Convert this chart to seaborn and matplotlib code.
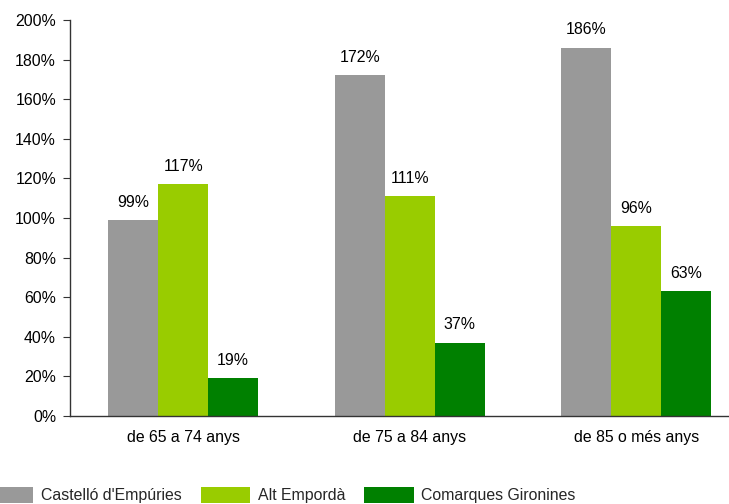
import pandas as pd
import matplotlib
matplotlib.use('Agg')
import matplotlib.pyplot as plt
import seaborn as sns
from matplotlib.ticker import FuncFormatter, FixedLocator

# Chart values
groups = ['de 65 a 74 anys', 'de 75 a 84 anys', 'de 85 o més anys']
series = ["Castelló d'Empúries", 'Alt Empordà', 'Comarques Gironines']
castello = [99, 172, 186]
alt_emporda = [117, 111, 96]
comarques = [19, 37, 63]
colors = ['#999999', '#99CC00', '#008000']

df = pd.DataFrame({
    'grup': groups * 3,
    'serie': [series[0]] * 3 + [series[1]] * 3 + [series[2]] * 3,
    'valor': castello + alt_emporda + comarques,
})

sns.set_style('white')
plt.rcParams['font.family'] = ['Liberation Sans', 'DejaVu Sans']
fs = 11.4

fig = plt.figure(figsize=(7.29, 5.04), dpi=100)
ax = fig.add_axes([70 / 729, 1 - 416 / 504, 679.5 / 729, 396 / 504])

sns.barplot(data=df, x='grup', y='valor', hue='serie', palette=colors,
            width=0.662, saturation=1, linewidth=0, ax=ax,
            order=groups, hue_order=series)

# Value labels above bars
for cont in ax.containers:
    ax.bar_label(cont, fmt='%.0f%%', padding=7.5, fontsize=fs, color='black')

ax.set_xlim(-0.5, 2.5)
ax.set_ylim(0, 200)
ax.set_yticks(range(0, 201, 20))
ax.yaxis.set_major_formatter(FuncFormatter(lambda v, p: f'{v:.0f}%'))
ax.set_xlabel('')
ax.set_ylabel('')

# Ticks at group boundaries, labels centred
ax.tick_params(axis='x', which='major', length=0, labelsize=fs, pad=10,
               labelcolor='black')
ax.xaxis.set_minor_locator(FixedLocator([-0.5, 0.5, 1.5, 2.5]))
ax.tick_params(axis='x', which='minor', length=5, direction='out', color='#333333')
ax.tick_params(axis='y', length=5, direction='out', labelsize=fs, pad=5,
               color='#333333', left=True, labelcolor='black')

for s in ['top', 'right']:
    ax.spines[s].set_visible(False)
for s in ['left', 'bottom']:
    ax.spines[s].set_color('#333333')
    ax.spines[s].set_linewidth(1)

handles, labels = ax.get_legend_handles_labels()
ax.get_legend().remove()
fig.legend(handles, labels, loc='center', bbox_to_anchor=(280 / 729, 9 / 504),
           ncol=3, frameon=False, fontsize=fs, handlelength=3.1,
           handleheight=1.15, handletextpad=0.5, columnspacing=1.2, borderpad=0)

fig.savefig('out.png', dpi=100)
